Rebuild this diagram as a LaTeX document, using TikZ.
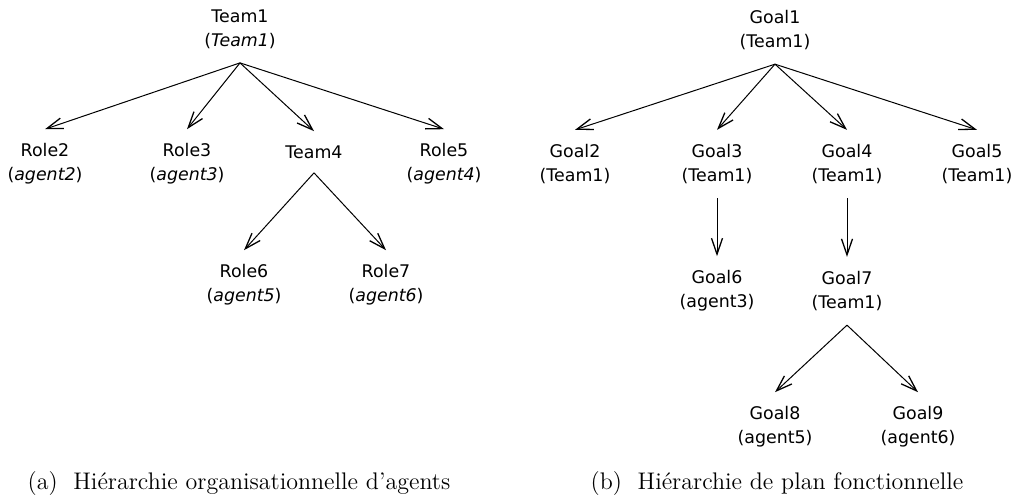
\documentclass[tikz,border=0pt]{standalone}
\usepackage{fontspec}
\newfontfamily\labelfont{DejaVu Sans}
\usetikzlibrary{arrows.meta}
\begin{document}
\begin{tikzpicture}[x=0.5pt,y=-0.5pt,
  item/.style={font=\labelfont\fontsize{8.7pt}{12pt}\selectfont, align=center, inner xsep=0pt, inner ysep=7pt},
  link/.style={line width=0.5pt, -{Straight Barb[length=8pt,width=5.5pt,line width=0.65pt]}},
  caption/.style={font=\fontsize{12pt}{14pt}\selectfont, inner sep=0pt}]
\useasboundingbox (0,0) rectangle (1018,499);
% organisational hierarchy
\node[item] (t1) at (240,29) {Team1\\(\textit{Team1})};
\node[item] (r2) at (45,164) {Role2\\(\textit{agent2})};
\node[item] (r3) at (187,164) {Role3\\(\textit{agent3})};
\node[item] (t4) at (314,152) {Team4};
\node[item] (r5) at (444,164) {Role5\\(\textit{agent4})};
\node[item] (r6) at (244,285) {Role6\\(\textit{agent5})};
\node[item] (r7) at (386,285) {Role7\\(\textit{agent6})};
\foreach \c in {r2,r3,t4,r5} \draw[link] (t1.south) -- (\c.north);
\foreach \c in {r6,r7} \draw[link] (t4.south) -- (\c.north);
% functional plan hierarchy
\node[item] (g1) at (775,30) {Goal1\\(Team1)};
\node[item] (g2) at (575,164) {Goal2\\(Team1)};
\node[item] (g3) at (717,164) {Goal3\\(Team1)};
\node[item] (g4) at (847,164) {Goal4\\(Team1)};
\node[item] (g5) at (977,164) {Goal5\\(Team1)};
\node[item] (g6) at (717,291) {Goal6\\(agent3)};
\node[item] (g7) at (847,291) {Goal7\\(Team1)};
\node[item] (g8) at (775,427) {Goal8\\(agent5)};
\node[item] (g9) at (918,427) {Goal9\\(agent6)};
\foreach \c in {g2,g3,g4,g5} \draw[link] (g1.south) -- (\c.north);
\draw[link] (g3.south) -- (g6.north);
\draw[link] (g4.south) -- (g7.north);
\foreach \c in {g8,g9} \draw[link] (g7.south) -- (\c.north);
% captions
\node[caption] (capa) at (239,484) {(a)\ \ Hiérarchie organisationnelle d'agents};
\node[caption] (capb) at (777,484) {(b)\ \ Hiérarchie de plan fonctionnelle};
\end{tikzpicture}
\end{document}
